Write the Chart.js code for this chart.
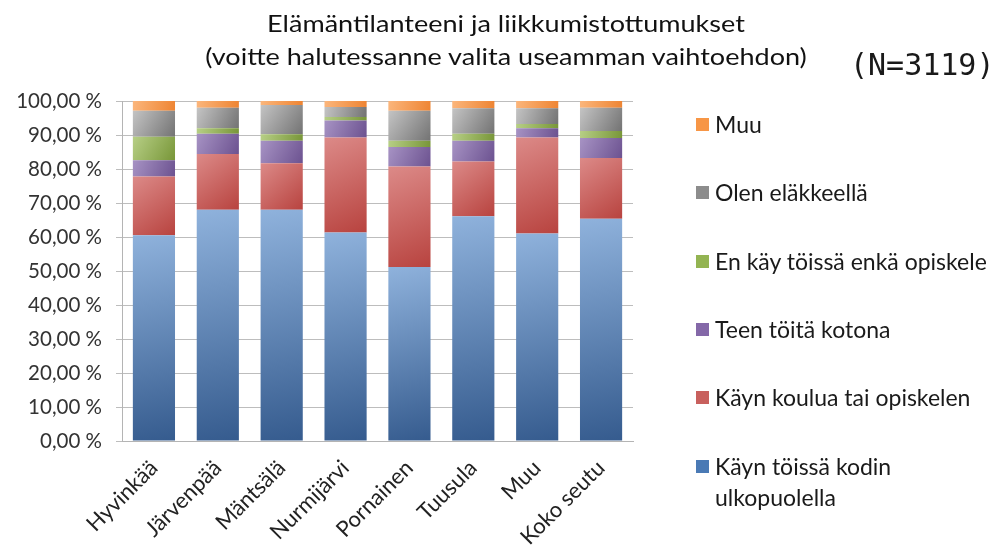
<!DOCTYPE html>
<html>
<head>
    <title></title>
    <script src="https://cdn.jsdelivr.net/npm/chart.js@4.4.1/dist/chart.umd.min.js"></script>
    <style>
        body { margin: 0; background: #fff; }
        #wrap { position: relative; width: 997px; height: 549px; }
        #chart-area { position: absolute; left: 0; top: 0; }
        .title { position: absolute; left: 206px; width: 600px; text-align: center; font-family: Lato, sans-serif; font-size: 23.5px; color: #111; white-space: nowrap; transform: scaleX(1.15); }
        #nCount { position: absolute; left: 850px; top: 47px; font-family: "DejaVu Sans Mono", monospace; font-size: 30px; color: #1a1a1a; }
        .leg { position: absolute; left: 696px; font-family: Lato, sans-serif; font-size: 23px; color: #1a1a1a; line-height: 31px; white-space: nowrap; }
        .leg span.box { position: absolute; left: 0; top: 9px; width: 13px; height: 13px; }
        .leg span.txt { display: block; padding-left: 19px; }
    </style>
</head>

<body>
    <div id="wrap">
        <canvas id="chart-area" width="997" height="549"></canvas>
        <div class="title" style="top:9px">Elämäntilanteeni ja liikkumistottumukset</div>
        <div class="title" style="top:42px">(voitte halutessanne valita useamman vaihtoehdon)</div>
        <div id="nCount">(N=3119)</div>
        <div id="legend"></div>
    </div>

    <script>
		// kunnat / alueet
		var categories = ['Hyvinkää', 'Järvenpää', 'Mäntsälä', 'Nurmijärvi', 'Pornainen', 'Tuusula', 'Muu', 'Koko seutu'];

		// osuudet prosentteina, alimmasta pinosta ylimpään
		var toissaKodinUlkopuolella = [60.5, 68.0, 68.0, 61.3, 51.2, 66.1, 61.0, 65.4];
		var koulussaTaiOpiskelen   = [17.3, 16.4, 13.7, 28.0, 29.5, 16.1, 28.3, 17.8];
		var toitaKotona            = [4.8, 6.0, 6.6, 5.0, 5.8, 6.1, 2.7, 5.9];
		var eiToissaEikaOpiskele   = [6.9, 1.6, 1.9, 1.0, 1.8, 2.1, 1.2, 2.1];
		var elakkeella             = [7.6, 6.0, 8.6, 2.9, 8.8, 7.5, 4.7, 6.8];
		var muuTilanne             = [2.9, 2.0, 1.2, 1.8, 2.9, 2.1, 2.1, 2.0];

		var seriesNames = ['Käyn töissä kodin ulkopuolella', 'Käyn koulua tai opiskelen', 'Teen töitä kotona',
			'En käy töissä enkä opiskele', 'Olen eläkkeellä', 'Muu'];
		var seriesValues = [toissaKodinUlkopuolella, koulussaTaiOpiskelen, toitaKotona,
			eiToissaEikaOpiskele, elakkeella, muuTilanne];

		var yTicks = [0, 10, 20, 30, 40, 50, 60, 70, 80, 90, 100];

		// [vaalea, tumma] liukuväri jokaiselle sarjalle
		var shades = [
			['#8fb2dc', '#355b8e'],
			['#dc8a88', '#b8433f'],
			['#a793c4', '#6c5290'],
			['#b7cf86', '#789638'],
			['#c4c4c4', '#737373'],
			['#fbb67c', '#ee8432']
		];
		var legendColors = ['#4a7ab5', '#c8605d', '#8468a8', '#93b452', '#8c8c8c', '#f79646'];

		var barHalf = 21;

		function segmentFill(context) {
			var chart = context.chart;
			var ds = context.datasetIndex;
			var idx = context.dataIndex;
			var pair = shades[ds];
			if (context.type !== 'data' || !chart.chartArea || !chart.scales.x) {
				return pair[1];
			}
			var bottom = 0;
			for (var k = 0; k < ds; k++) bottom += seriesValues[k][idx];
			var top = bottom + seriesValues[ds][idx];
			var cx = chart.scales.x.getPixelForValue(idx);
			var yTop = chart.scales.y.getPixelForValue(top);
			var yBot = chart.scales.y.getPixelForValue(bottom);
			var g = chart.ctx.createLinearGradient(cx - barHalf, yTop, cx + barHalf, yBot);
			g.addColorStop(0, pair[0]);
			g.addColorStop(1, pair[1]);
			return g;
		}

		var datasets = [];
		for (var i = 0; i < seriesNames.length; i++) {
			datasets.push({
				label: seriesNames[i],
				data: seriesValues[i],
				backgroundColor: segmentFill,
				borderWidth: 0
			});
		}

		// legenda oikealle, ylin sarja ensin
		var legendRows = [
			{ y: 109, i: 5 },
			{ y: 177, i: 4 },
			{ y: 246, i: 3 },
			{ y: 314, i: 2 },
			{ y: 382, i: 1 },
			{ y: 451, i: 0, text: 'Käyn töissä kodin<br>ulkopuolella' }
		];
		var legendHtml = '';
		legendRows.forEach(function (row) {
			legendHtml += '<div class="leg" style="top:' + row.y + 'px"><span class="box" style="background:' +
				legendColors[row.i] + '"></span><span class="txt">' + (row.text || seriesNames[row.i]) + '</span></div>';
		});
		document.getElementById('legend').innerHTML = legendHtml;

		var object = {
			type: 'bar',
			data: {
				labels: categories,
				datasets: datasets
			},
			options: {
				responsive: false,
				animation: false,
				layout: {
					padding: { left: 0, right: 364, top: 101, bottom: 0 }
				},
				datasets: {
					bar: { barPercentage: 0.66, categoryPercentage: 1.0 }
				},
				plugins: {
					legend: { display: false },
					title: { display: false },
					tooltip: { enabled: false }
				},
				scales: {
					x: {
						stacked: true,
						grid: { display: false, drawTicks: false },
						border: { display: true, color: '#b4b4b4', width: 1 },
						ticks: {
							maxRotation: 45,
							minRotation: 45,
							padding: 14,
							color: '#222',
							font: { family: 'Lato', size: 22 }
						},
						afterFit: function (scale) { scale.height = 108; }
					},
					y: {
						stacked: true,
						min: 0,
						max: 100,
						afterBuildTicks: function (scale) {
							scale.ticks = yTicks.map(function (v) { return { value: v }; });
						},
						grid: { color: '#bdbdbd', lineWidth: 1, tickLength: 6 },
						border: { display: true, color: '#b4b4b4', width: 1 },
						ticks: {
							padding: 14,
							color: '#333',
							font: { family: 'Lato', size: 20.5 },
							callback: function (v) { return v.toFixed(2).replace('.', ',') + ' %'; }
						},
						afterFit: function (scale) { scale.width = 122; }
					}
				}
			}
		};

		window.onload = function () {
			var ctx = document.getElementById('chart-area').getContext('2d');
			window.myBar = new Chart(ctx, object);
		};
    </script>
</body>
</html>
